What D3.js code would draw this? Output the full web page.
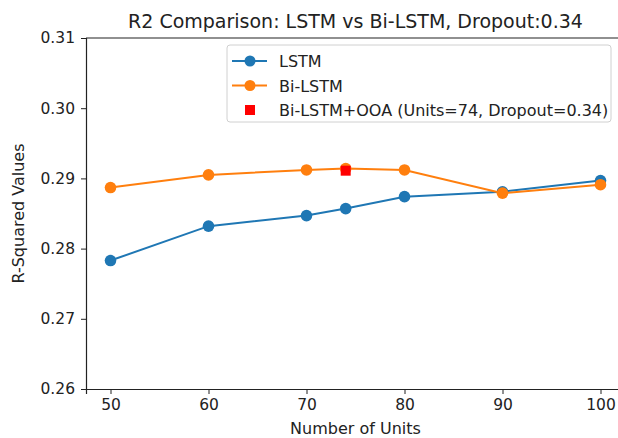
<!DOCTYPE html>
<html lang="en">
<head>
<meta charset="utf-8">
<title>R2 Comparison</title>
<script src="https://d3js.org/d3.v7.min.js"></script>
<style>
  body { margin: 0; background: #fff; }
  svg text { font-family: "DejaVu Sans", sans-serif; fill: #222; }
  .axis path, .axis line { stroke: #222; }
</style>
</head>
<body>
<div id="chart"></div>
<script>
// data
var units = [50, 60, 70, 74, 80, 90, 100];
var lstm = [0.2783, 0.2832, 0.2847, 0.2857, 0.2874, 0.2881, 0.2897];
var bilstm = [0.2887, 0.2905, 0.2912, 0.2914, 0.2912, 0.2879, 0.2891];
var ooaUnits = [74];
var ooaValues = [0.2911];
var xTicks = [50, 60, 70, 80, 90, 100];
var yTicks = [0.26, 0.27, 0.28, 0.29, 0.30, 0.31];
var legendLabels = ["LSTM", "Bi-LSTM", "Bi-LSTM+OOA (Units=74, Dropout=0.34)"];

var W = 618, H = 438;
var m = {top: 38, right: -7, bottom: 49, left: 86};

var svg = d3.select("#chart").append("svg")
  .attr("width", W).attr("height", H);

var x = d3.scaleLinear().domain([47.5, 102.5]).range([m.left, W - m.right]);
var y = d3.scaleLinear().domain([0.26, 0.31]).range([H - m.bottom, m.top]);

// axes
svg.append("g").attr("class", "axis")
  .attr("transform", "translate(0," + (H - m.bottom) + ")")
  .call(d3.axisBottom(x).tickValues(xTicks).tickSize(5).tickPadding(5).tickFormat(d3.format("d")));
svg.append("g").attr("class", "axis")
  .attr("transform", "translate(" + m.left + ",0)")
  .call(d3.axisLeft(y).tickValues(yTicks).tickSize(5).tickPadding(6).tickFormat(d3.format(".2f")));
svg.selectAll(".axis .domain").attr("stroke-width", 1.2);
svg.selectAll(".axis text").style("font-size", "15.5px").attr("fill", "#222");
// top spine
svg.append("line")
  .attr("x1", m.left).attr("x2", W - m.right)
  .attr("y1", m.top).attr("y2", m.top)
  .attr("stroke", "#222").attr("stroke-width", 1.2);

// titles
svg.append("text")
  .attr("x", (m.left + W - m.right) / 2).attr("y", 28)
  .attr("text-anchor", "middle").style("font-size", "19px")
  .text("R2 Comparison: LSTM vs Bi-LSTM, Dropout:0.34");
svg.append("text")
  .attr("x", (m.left + W - m.right) / 2).attr("y", 434)
  .attr("text-anchor", "middle").style("font-size", "16px")
  .text("Number of Units");
svg.append("text")
  .attr("transform", "translate(24," + ((m.top + H - m.bottom) / 2) + ") rotate(-90)")
  .attr("text-anchor", "middle").style("font-size", "16px")
  .text("R-Squared Values");

// series
var line = d3.line().x(function (d) { return x(d[0]); }).y(function (d) { return y(d[1]); });
var series = [
  {vals: lstm, color: "#1f77b4"},
  {vals: bilstm, color: "#ff7f0e"}
];
series.forEach(function (s) {
  var pts = units.map(function (u, i) { return [u, s.vals[i]]; });
  svg.append("path").datum(pts)
    .attr("d", line).attr("fill", "none")
    .attr("stroke", s.color).attr("stroke-width", 2);
  svg.append("g").selectAll("circle").data(pts).join("circle")
    .attr("cx", function (d) { return x(d[0]); })
    .attr("cy", function (d) { return y(d[1]); })
    .attr("r", 5.8).attr("fill", s.color);
});

// OOA point
svg.append("g").selectAll("rect").data(ooaUnits).join("rect")
  .attr("x", function (d) { return x(d) - 5; })
  .attr("y", function (d, i) { return y(ooaValues[i]) - 5; })
  .attr("width", 10).attr("height", 10).attr("fill", "red");

// legend
var lg = svg.append("g").attr("transform", "translate(227,45)");
lg.append("rect").attr("width", 384).attr("height", 77).attr("rx", 3)
  .attr("fill", "white").attr("fill-opacity", 0.8)
  .attr("stroke", "#d0d0d0").attr("stroke-width", 1);
var colors = ["#1f77b4", "#ff7f0e", "red"];
legendLabels.forEach(function (lab, i) {
  var cy = 16 + i * 24.5;
  if (i < 2) {
    lg.append("line").attr("x1", 5).attr("x2", 40).attr("y1", cy).attr("y2", cy)
      .attr("stroke", colors[i]).attr("stroke-width", 2);
    lg.append("circle").attr("cx", 23).attr("cy", cy).attr("r", 5.5).attr("fill", colors[i]);
  } else {
    lg.append("rect").attr("x", 18).attr("y", cy - 5).attr("width", 10).attr("height", 10)
      .attr("fill", colors[i]);
  }
  lg.append("text").attr("x", 52).attr("y", cy + 6).style("font-size", "16px").text(lab);
});
</script>
</body>
</html>
